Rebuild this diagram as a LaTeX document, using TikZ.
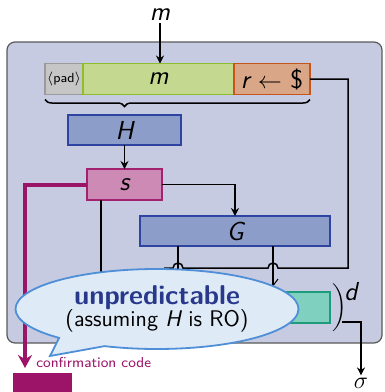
\documentclass[tikz,border=0pt]{standalone}
\usepackage{fontspec}
\usepackage{xcolor}
\usepackage{tikz}
\usetikzlibrary{arrows.meta,calc,positioning,decorations.pathreplacing,shapes.callouts}
\definecolor{slide}{HTML}{C6CBE1}
\definecolor{padF}{HTML}{C6C6C6}\definecolor{padD}{HTML}{9A9A9A}
\definecolor{msgF}{HTML}{C4D98F}\definecolor{msgD}{HTML}{8DBF2C}
\definecolor{rndF}{HTML}{D9A687}\definecolor{rndD}{HTML}{C4551B}
\definecolor{hshF}{HTML}{8D9DC9}\definecolor{hshD}{HTML}{2D45A0}
\definecolor{sedF}{HTML}{CC8AB5}\definecolor{sedD}{HTML}{A3226F}
\definecolor{encF}{HTML}{80D0BF}\definecolor{encD}{HTML}{1E9B7A}
\definecolor{mag}{HTML}{9B1468}
\definecolor{bubF}{HTML}{DFEAF7}\definecolor{bubD}{HTML}{4F8FD8}\definecolor{bubT}{HTML}{28398B}
\newcommand{\vr}[1]{{\itshape #1}}

\begin{document}
\begin{tikzpicture}[x=0.5pt,y=-0.5pt,font=\sffamily,
  fld/.style 2 args={draw=#1,fill=#2,line width=0.8pt,minimum height=15.5pt,inner sep=0pt,
             outer sep=0pt,font=\sffamily\fontsize{13}{15}\selectfont},
  wire/.style={line width=0.75pt},
  arr/.style={-{Stealth[length=4pt,width=4pt]}},
  lbl/.style={inner sep=1pt,font=\sffamily\fontsize{13}{15}\selectfont}]
  \useasboundingbox (0,0) rectangle (385,392);
  \draw[fill=slide,draw=black!65,line width=0.6pt,rounded corners=4pt] (7,42) rectangle (382,343);
  % padded message and salt
  \node[fld={padD}{padF},minimum width=19pt,font=\sffamily\fontsize{6.6}{7}\selectfont] (pad) at (64,79) {$\langle$pad$\rangle$};
  \node[fld={msgD}{msgF},minimum width=75.5pt,right=0pt of pad] (mfield) {\vr{m}};
  \node[fld={rndD}{rndF},minimum width=38pt,right=0pt of mfield] (rfield) {\vr{r} $\leftarrow$ \$};
  \node[lbl] (mtop) at (160,15) {\vr{m}};
  \draw[wire,arr] (mtop.south) -- (mtop.south |- mfield.north);
  \draw[wire,decorate,decoration={brace,mirror,amplitude=3.5pt,aspect=0.3}]
    ($(pad.south west)+(0,5)$) -- ($(rfield.south east)+(0,5)$);
  % hash and mask
  \node[fld={hshD}{hshF},minimum width=56.5pt,minimum height=15pt] (H) at (124.5,130) {\vr{H}};
  \node[fld={sedD}{sedF},minimum width=37.5pt] (s) at (124.5,184.5) {\vr{s}};
  \node[fld={hshD}{hshF},minimum width=95pt,minimum height=15pt] (G) at (235,231) {\vr{G}};
  \node[fld={encD}{encF},minimum width=45pt] (enc) at (285,307.5) {};
  \node[inner sep=0pt] (paren) at (339,308) {$\left.\vrule height 8pt depth 8pt width 0pt\right)$};
  \node[lbl,anchor=north west,inner sep=0pt] (dexp) at (344,282) {\vr{d}};
  \node[lbl] (sig) at (361,383) {$\sigma$};
  \coordinate (g1) at ($(G.south west)!0.2!(G.south east)$);
  \coordinate (g2) at ($(G.south west)!0.7!(G.south east)$);
  \coordinate (sigout) at (342,322);
  \draw[wire,arr] (H) -- (s);
  \draw[wire,arr] (s.east) -| (G.north);
  \draw[wire] (g1) -- ++(0,60);
  \draw[wire] (g2) -- (g2 |- enc.north);
  \draw[wire] (rfield.east) -| (348,268) -- (278,268) arc[start angle=0,end angle=180,radius=2.5pt]
    -- (183,268) arc[start angle=0,end angle=180,radius=2.5pt] -- (164,268);
  \draw[wire,line width=0.5pt] (272,287) -- (278,279);
  \draw[wire] ($(s.south west)+(14,0)$) -- ++(0,110);
  \draw[wire,arr] (sigout) -| (sig.north);
  % confirmation code
  \coordinate (confend) at (25,368);
  \draw[mag,line width=2pt,-{Stealth[length=6.5pt,width=7pt]}] (s.west) -| (confend);
  \node[anchor=west,text=mag,inner sep=0pt,font=\sffamily\fontsize{7.2}{8}\selectfont] (conflbl) at (36,362) {confirmation code};
  \node[fill=mag,minimum width=29.5pt,minimum height=10pt,inner sep=0pt,anchor=north west] (confbox) at (13,373) {};
  % speech bubble
  \node[ellipse callout,draw=bubD,fill=bubF,line width=0.9pt,minimum width=141.5pt,minimum height=40pt,
        inner sep=0pt,callout absolute pointer={(50,356)},callout pointer arc=22,align=center] (bubble) at (157,309)
    {{\fontsize{13.6}{15}\selectfont\bfseries\color{bubT}unpredictable}\\[-1pt]
     {\fontsize{11.3}{13}\selectfont(assuming \vr{H} is RO)}};
\end{tikzpicture}
\end{document}
